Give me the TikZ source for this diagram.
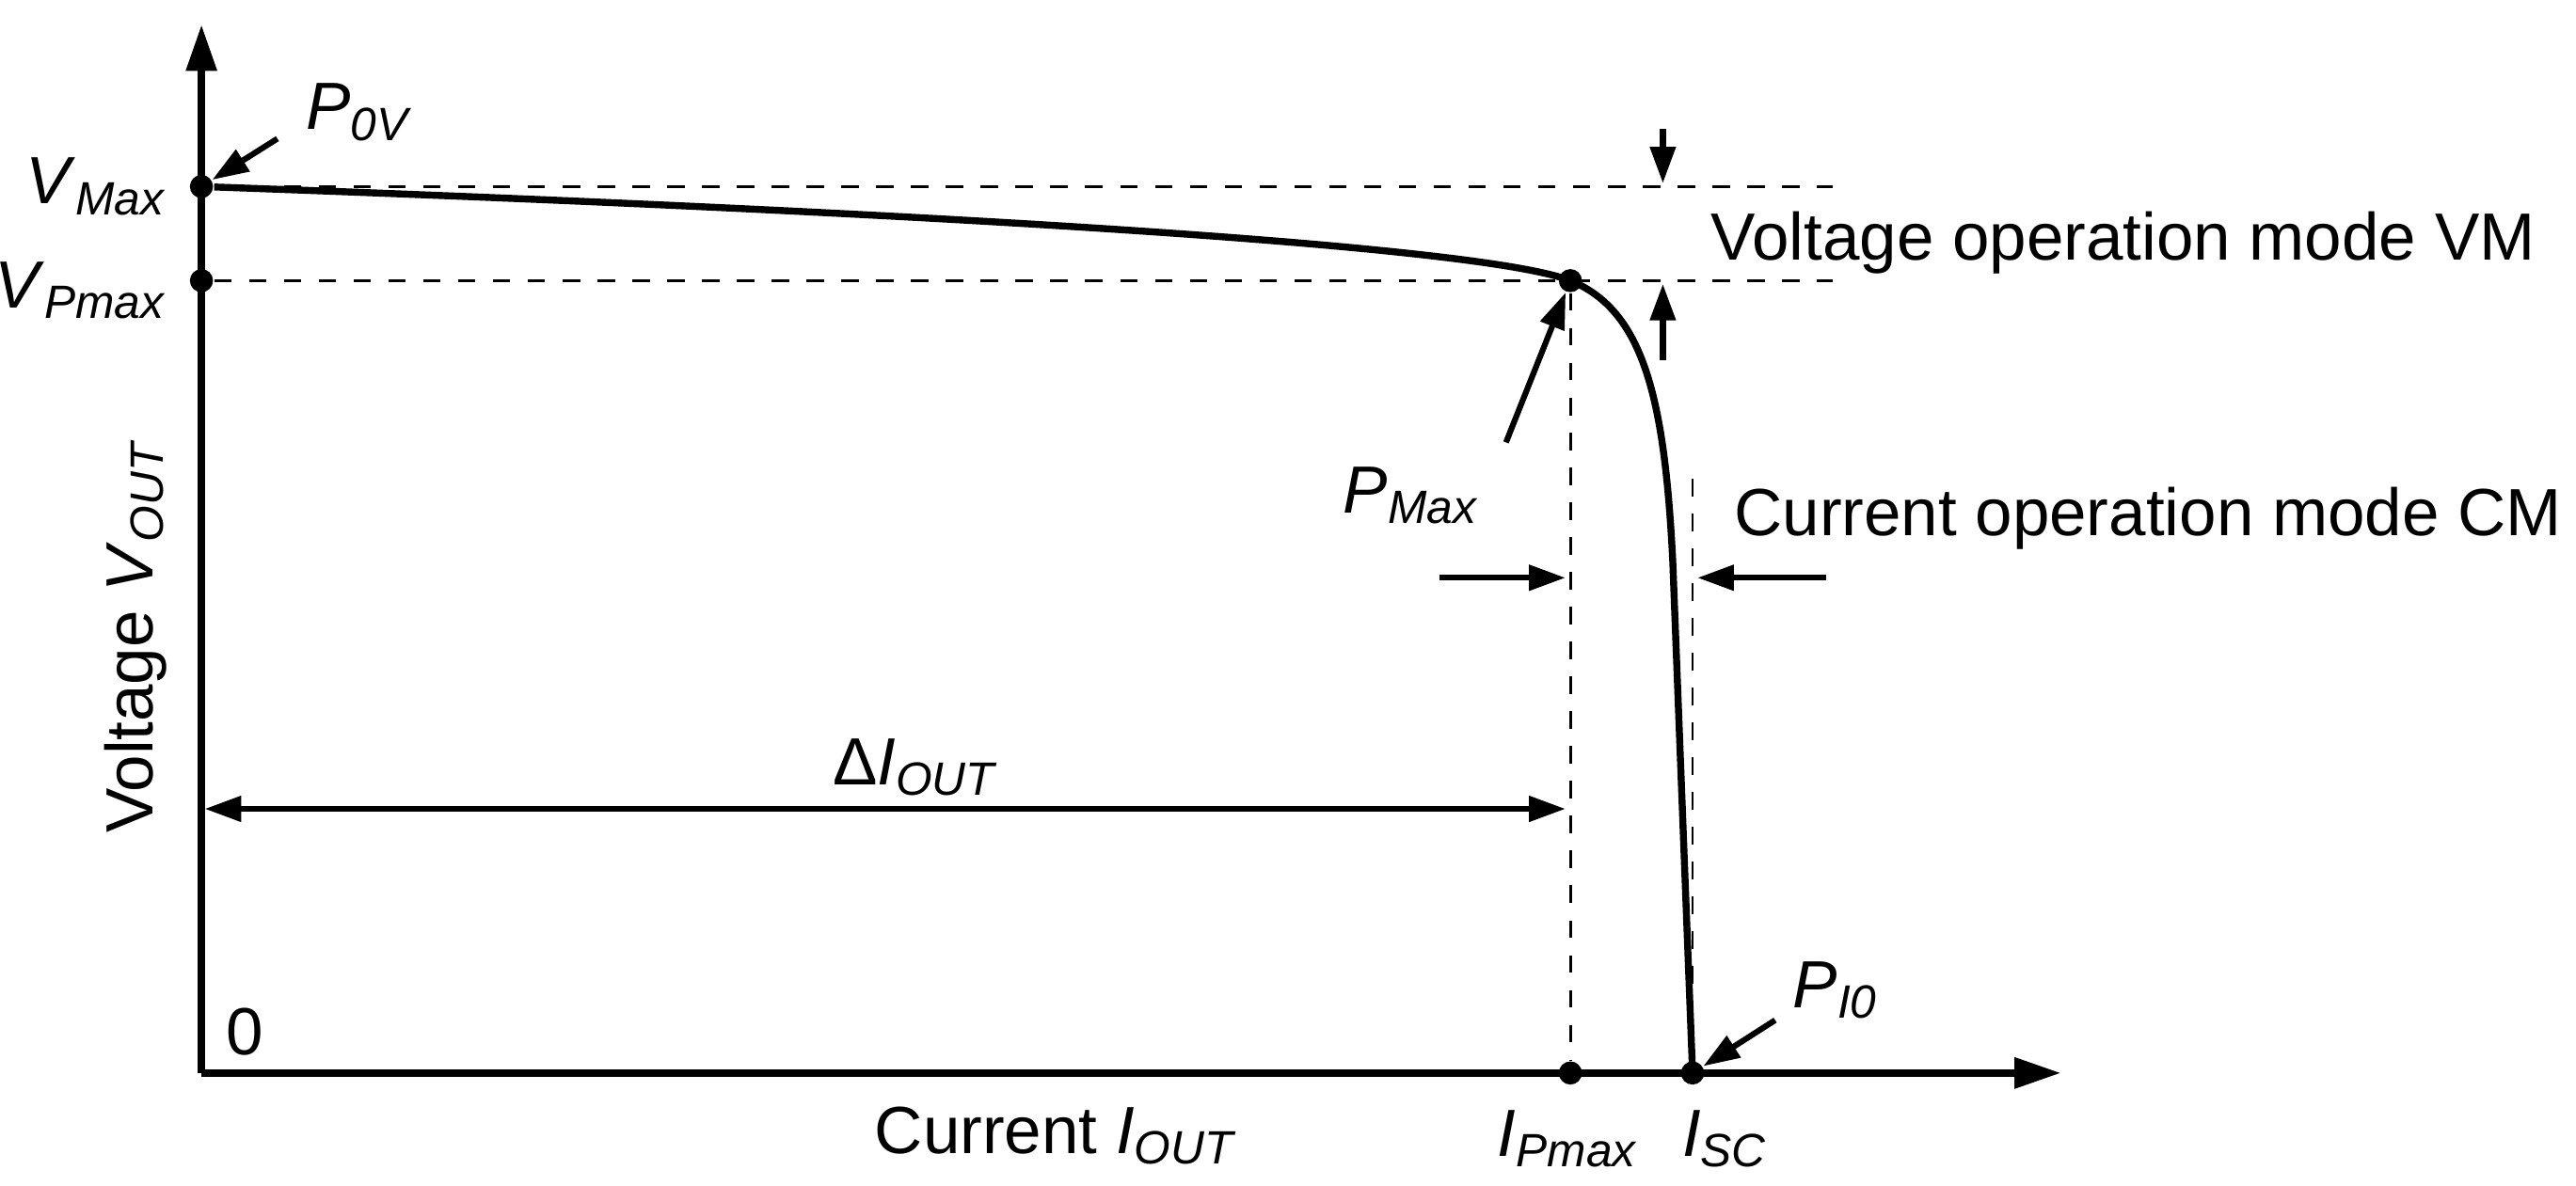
\documentclass[tikz,border=0pt]{standalone}
\usepackage{fontspec}
\setmainfont{Liberation Sans}
\usetikzlibrary{arrows.meta}
\newcommand{\symsub}[2]{\textit{#1}\textsubscript{\textit{#2}}}
\tikzset{
  dot/.style={circle, fill=black, inner sep=0pt, minimum size=0.14cm},
  lbl/.style={font=\fontsize{11.5}{12.5}\selectfont, inner sep=1pt},
  axis/.style={line width=1.2pt, -{Triangle[length=0.28cm, width=0.18cm]}},
  pointer/.style={line width=1pt, -{Triangle[length=0.22cm, width=0.15cm]}},
  guide/.style={dashed, line width=0.45pt}
}
\begin{document}
\begin{tikzpicture}[x=0.01cm, y=-0.01cm]
        \useasboundingbox (0,0) rectangle (1560,718);
        % axes
        \coordinate (O) at (122, 650);
        \coordinate (ytop) at (122, 15);
        \coordinate (xend) at (1248, 650);
        \draw[axis] (O) -- (ytop);
        \draw[axis] (O) -- (xend);

        \node[dot] at (122, 113)  (vmax)  {};
        \node[dot] at (122, 170)  (vpmax) {};
        \node[dot] at (951, 170)  (pmax)  {};
        \node[dot] at (951, 650)  (ipmax) {};
        \node[dot] at (1025, 650) (isc)   {};

        % guide lines
        \coordinate (g1) at (1110, 113);
        \coordinate (g2) at (1110, 170);
        \coordinate (g3) at (1025, 290);
        \draw[guide] (vmax) -- (g1);
        \draw[guide] (vpmax) -- (g2);
        \draw[guide] (pmax) -- (ipmax);
        \draw[guide] (g3) -- (isc);

        % characteristic
        \draw[line width=1.2pt] (vmax) .. controls (600, 130) and (900, 150) .. (pmax.center)
              .. controls (995, 188) and (1008, 240) .. (1013, 340) -- (isc.center);

        % labels
        \node[lbl, anchor=east] at (106, 113) (lvmax)  {\symsub{V}{Max}};
        \node[lbl, anchor=east] at (106, 176) (lvpmax) {\symsub{V}{Pmax}};
        \node[lbl, rotate=90] at (82, 385) (lvout) {Voltage \symsub{V}{OUT}};
        \node[lbl] at (148, 625) (zero) {0};
        \node[lbl] at (640, 688) (liout) {Current \symsub{I}{OUT}};
        \node[lbl] at (950, 690) (lipmax) {\symsub{I}{Pmax}};
        \node[lbl] at (1045, 690) (lisc) {\symsub{I}{SC}};
        \node[lbl] at (218, 68) (lp0v) {\symsub{P}{0V}};
        \node[lbl] at (855, 300) (lpmax) {\symsub{P}{Max}};
        \node[lbl] at (1112, 600) (lpi0) {\symsub{P}{I0}};
        \node[lbl, anchor=west] at (1032, 147) (lvm) {Voltage operation mode VM};
        \node[lbl, anchor=west] at (1046, 314) (lcm) {Current operation mode CM};
        \node[lbl] at (555, 465) (ldi) {Δ\symsub{I}{OUT}};

        % pointers
        \coordinate (p0vtail) at (168, 84);
        \coordinate (pmaxtail) at (912, 268);
        \coordinate (pi0tail) at (1075, 618);
        \draw[pointer] (p0vtail) -- (vmax);
        \draw[pointer] (pmaxtail) -- (pmax);
        \draw[pointer] (pi0tail) -- (isc);

        % mode markers
        \coordinate (vmA) at (1007, 78);
        \coordinate (vmB) at (1007, 111);
        \coordinate (vmC) at (1007, 218);
        \coordinate (vmD) at (1007, 172);
        \draw[pointer] (vmA) -- (vmB);
        \draw[pointer] (vmC) -- (vmD);
        \coordinate (cmA) at (872, 350);
        \coordinate (cmB) at (948, 350);
        \coordinate (cmC) at (1106, 350);
        \coordinate (cmD) at (1028, 350);
        \draw[pointer] (cmA) -- (cmB);
        \draw[pointer] (cmC) -- (cmD);

        % delta span
        \coordinate (dA) at (124, 490);
        \coordinate (dB) at (948, 490);
        \draw[pointer, {Triangle[length=0.22cm, width=0.15cm]}-{Triangle[length=0.22cm, width=0.15cm]}] (dA) -- (dB);
\end{tikzpicture}
\end{document}
